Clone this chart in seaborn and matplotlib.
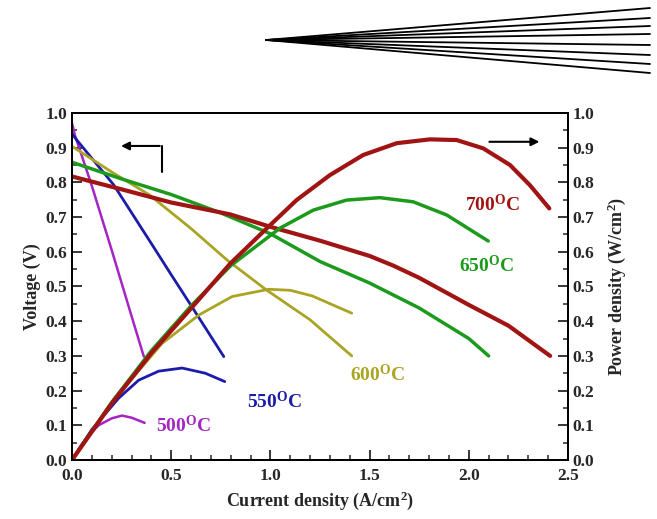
import matplotlib
matplotlib.use("Agg")
import matplotlib.pyplot as plt
import seaborn as sns
from matplotlib.ticker import MultipleLocator

# I-V data (current density A/cm2, voltage V)
i_v_500 = [0, 0.015, 0.03, 0.1, 0.2, 0.3, 0.362]
v_500 = [0.971, 0.935, 0.91, 0.79, 0.605, 0.415, 0.298]
i_v_550 = [0, 0.02, 0.21, 0.412, 0.5, 0.605, 0.765]
v_550 = [0.94, 0.925, 0.793, 0.613, 0.534, 0.441, 0.298]
i_v_600 = [0, 0.2, 0.39, 0.6, 0.78, 0.98, 1.2, 1.41]
v_600 = [0.904, 0.83, 0.764, 0.667, 0.577, 0.49, 0.404, 0.30]
i_v_650 = [0, 0.25, 0.5, 0.75, 1.0, 1.25, 1.5, 1.75, 2.0, 2.1]
v_650 = [0.858, 0.81, 0.765, 0.712, 0.652, 0.572, 0.51, 0.438, 0.35, 0.30]
i_v_700 = [0, 0.25, 0.5, 0.796, 1.0, 1.25, 1.5, 1.62, 1.75, 2.0, 2.2, 2.41]
v_700 = [0.817, 0.78, 0.742, 0.708, 0.672, 0.632, 0.588, 0.56, 0.525, 0.447, 0.387, 0.30]

# power density data (W/cm2)
i_p_500 = [0, 0.05, 0.1, 0.134, 0.2, 0.252, 0.3, 0.366]
p_500 = [0, 0.046, 0.08, 0.1, 0.12, 0.128, 0.122, 0.107]
i_p_550 = [0, 0.1, 0.235, 0.336, 0.437, 0.555, 0.672, 0.77]
p_550 = [0, 0.088, 0.178, 0.23, 0.256, 0.265, 0.25, 0.226]
i_p_600 = [0, 0.2, 0.454, 0.64, 0.807, 0.992, 1.1, 1.21, 1.41]
p_600 = [0, 0.166, 0.336, 0.418, 0.471, 0.492, 0.489, 0.473, 0.423]
i_p_650 = [0, 0.2, 0.4, 0.6, 0.8, 1.048, 1.216, 1.384, 1.552, 1.72, 1.889, 2.098]
p_650 = [0, 0.166, 0.315, 0.444, 0.56, 0.668, 0.72, 0.749, 0.756, 0.744, 0.706, 0.631]
i_p_700 = [0, 0.2, 0.403, 0.605, 0.796, 0.964, 1.132, 1.30, 1.468, 1.637, 1.804,
           1.939, 2.073, 2.208, 2.308, 2.406]
p_700 = [0, 0.163, 0.31, 0.44, 0.565, 0.658, 0.749, 0.821, 0.879, 0.913, 0.924,
         0.922, 0.898, 0.85, 0.792, 0.725]

temps = ["500", "550", "600", "650", "700"]
colors = ["#a424c4", "#1c1caa", "#aaa424", "#1c9a1c", "#a01414"]
widths = [1.8, 2.0, 2.0, 2.5, 3.0]
label_x = [0.56, 1.02, 1.54, 2.09, 2.12]
label_y = [0.10, 0.168, 0.245, 0.56, 0.735]

# stray fan of lines above the plot (pixel positions)
fan_end_y = [8, 18, 26, 34, 45, 55, 64, 73]

sns.set_style("ticks")
plt.rcParams['font.family'] = ['Liberation Serif', 'DejaVu Serif']
plt.rcParams['font.weight'] = 'bold'
plt.rcParams['mathtext.fontset'] = 'custom'
plt.rcParams['mathtext.rm'] = 'Liberation Serif:bold'
plt.rcParams['mathtext.bf'] = 'Liberation Serif:bold'
plt.rcParams['mathtext.it'] = 'Liberation Serif:bold'

fig = plt.figure(figsize=(6.57, 5.19), dpi=100)
ax = fig.add_axes([0.1096, 0.1137, 0.7549, 0.6686])
ax2 = ax.twinx()

iv = [(i_v_500, v_500), (i_v_550, v_550), (i_v_600, v_600), (i_v_650, v_650), (i_v_700, v_700)]
ip = [(i_p_500, p_500), (i_p_550, p_550), (i_p_600, p_600), (i_p_650, p_650), (i_p_700, p_700)]

for k in range(5):
    sns.lineplot(x=iv[k][0], y=iv[k][1], ax=ax, color=colors[k], lw=widths[k], sort=False,
                 solid_joinstyle='round')
    sns.lineplot(x=ip[k][0], y=ip[k][1], ax=ax2, color=colors[k], lw=widths[k], sort=False,
                 solid_joinstyle='round')
    ax.text(label_x[k], label_y[k], temps[k] + "$^{\\mathrm{O}}$C", color=colors[k],
            fontsize=14, ha='center', va='center', fontweight='bold')

for a in (ax, ax2):
    a.set_xlim(0, 2.5)
    a.set_ylim(0, 1.0)
    a.yaxis.set_major_locator(MultipleLocator(0.1))
    a.yaxis.set_minor_locator(MultipleLocator(0.05))

ax.xaxis.set_major_locator(MultipleLocator(0.5))
ax.xaxis.set_minor_locator(MultipleLocator(0.1))
ax.tick_params(axis='both', which='major', direction='in', length=7, width=1.3, labelsize=12.5, top=False, right=False)
ax.tick_params(axis='both', which='minor', direction='in', length=3.5, width=1.1, top=False, right=False)
ax.tick_params(axis='x', pad=6)
ax2.tick_params(axis='y', which='major', direction='in', length=7, width=1.3, labelsize=12.5)
ax2.tick_params(axis='y', which='minor', direction='in', length=3.5, width=1.1)
for a in (ax, ax2):
    for s in a.spines.values():
        s.set_linewidth(1.4)
        s.set_color('black')
    for lab in a.get_xticklabels() + a.get_yticklabels():
        lab.set_fontweight('bold')

ax.set_xlabel("Current density (A/cm$^2$)", fontsize=13, fontweight='bold', labelpad=4)
ax.set_ylabel("Voltage (V)", fontsize=13, fontweight='bold', labelpad=3)
ax2.set_ylabel("Power density (W/cm$^2$)", fontsize=13, fontweight='bold', labelpad=8)

# direction arrows
ax.annotate("", xy=(0.233, 0.905), xytext=(0.456, 0.905),
            arrowprops=dict(arrowstyle='-|>', color='black', lw=1.5, mutation_scale=12))
ax.plot([0.456, 0.456], [0.905, 0.831], color='black', lw=1.5)
ax.annotate("", xy=(2.37, 0.917), xytext=(2.09, 0.917),
            arrowprops=dict(arrowstyle='-|>', color='black', lw=1.5, mutation_scale=12))

# fan lines on a figure-wide overlay
over = fig.add_axes([0, 0, 1, 1], zorder=-1)
over.set_xlim(0, 657)
over.set_ylim(519, 0)
over.axis('off')
for ye in fan_end_y:
    over.plot([266, 650], [40, ye], color='black', lw=1.3)

fig.savefig("out.png", dpi=100)
